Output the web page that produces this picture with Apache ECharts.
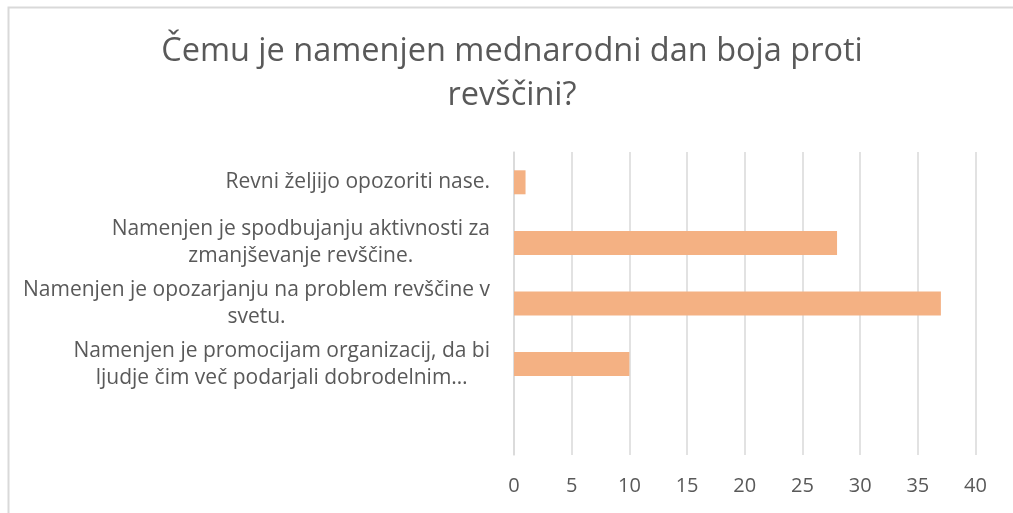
<!DOCTYPE html>
<html>
<head>
<meta charset="utf-8">
<script src="https://cdn.jsdelivr.net/npm/echarts@6/dist/echarts.min.js"></script>
<style>
  html, body { margin: 0; padding: 0; background: #fff; }
  #main { width: 1013px; height: 513px; }
</style>
</head>
<body>
<div id="main"></div>
<script>
// odgovori (od zgoraj navzdol), zadnja vrstica je prazna
var categories = [
  'Revni željijo opozoriti nase.',
  'Namenjen je spodbujanju aktivnosti za\nzmanjševanje revščine.',
  'Namenjen je opozarjanju na problem revščine v\nsvetu.',
  'Namenjen je promocijam organizacij, da bi\nljudje čim več podarjali dobrodelnim…',
  ''
];
var counts = [1, 28, 37, 10, null];
var xTicks = [0, 5, 10, 15, 20, 25, 30, 35, 40];

var chart = echarts.init(document.getElementById('main'), null, { renderer: 'canvas' });
var font = '"Open Sans", "Noto Sans", sans-serif';
var gridColor = '#d9d9d9';
var textColor = '#595959';

var option = {
  backgroundColor: '#fff',
  animation: false,
  title: {
    text: 'Čemu je namenjen mednarodni dan boja proti\nrevščini?',
    left: 512,
    top: 30,
    padding: 0,
    textAlign: 'center',
    textStyle: {
      fontFamily: font,
      fontSize: 32.5,
      fontWeight: 'normal',
      color: textColor,
      lineHeight: 44
    }
  },
  graphic: [{
    type: 'rect',
    shape: { x: 8.5, y: 7.5, width: 1100, height: 600 },
    style: { fill: null, stroke: gridColor, lineWidth: 2 },
    silent: true
  }],
  grid: { left: 514, right: 37.5, top: 152, bottom: 58 },
  xAxis: {
    type: 'value',
    min: xTicks[0],
    max: xTicks[xTicks.length - 1],
    interval: xTicks[1] - xTicks[0],
    axisLine: { show: false },
    axisTick: { show: false },
    splitLine: { lineStyle: { color: gridColor, width: 1.5 } },
    axisLabel: { fontFamily: font, fontSize: 20, color: textColor, margin: 21 }
  },
  yAxis: {
    type: 'category',
    inverse: true,
    data: categories,
    axisLine: { show: true, lineStyle: { color: gridColor, width: 1.5 } },
    axisTick: { show: false },
    axisLabel: {
      margin: 24,
      fontFamily: font,
      fontSize: 21,
      color: textColor,
      lineHeight: 27,
      formatter: function (v) {
        if (!v) return '';
        return v.split('\n').map(function (s) { return '{c|' + s + '}'; }).join('\n');
      },
      rich: {
        c: { align: 'center', fontFamily: font, fontSize: 21, color: textColor, lineHeight: 27 }
      }
    }
  },
  series: [{
    type: 'bar',
    data: counts,
    barWidth: 24,
    itemStyle: { color: '#f4b183' }
  }]
};

chart.setOption(option);
</script>
</body>
</html>
